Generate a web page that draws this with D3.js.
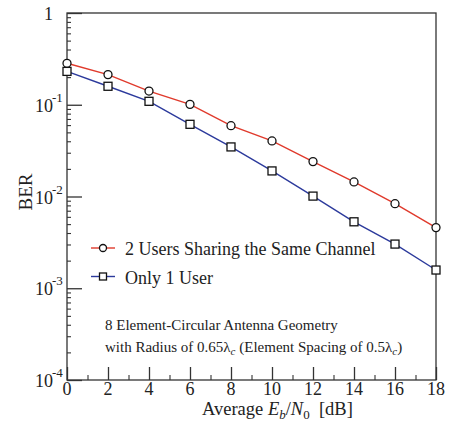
<!DOCTYPE html>
<html>
<head>
<meta charset="utf-8">
<script src="https://cdn.jsdelivr.net/npm/d3@7"></script>
<style>
  body { margin: 0; background: #fff; }
</style>
</head>
<body>
<div id="chart"></div>
<script>
// Data
var snrDb = [0, 2, 4, 6, 8, 10, 12, 14, 16, 18];
var berTwoUsers = [0.283, 0.213, 0.141, 0.101, 0.0591, 0.0403, 0.0240, 0.0144, 0.00835, 0.00458];
var berOneUser = [0.231, 0.159, 0.109, 0.0612, 0.0347, 0.0190, 0.0101, 0.0053, 0.00303, 0.00158];
var xTicks = [0, 2, 4, 6, 8, 10, 12, 14, 16, 18];
var yDecades = [0, -1, -2, -3, -4];

var svgWidth = 452, svgHeight = 425;
var margin = { top: 13, right: 16, bottom: 45, left: 67 };
var chartWidth = 436 - margin.left;
var chartHeight = 380 - margin.top;
var serif = "'Liberation Serif', 'Times New Roman', Times, serif";

var svg = d3.select("#chart").append("svg")
  .attr("width", svgWidth)
  .attr("height", svgHeight)
  .attr("font-family", serif);

var chartGroup = svg.append("g")
  .attr("transform", `translate(${margin.left}, ${margin.top})`);

var xScale = d3.scaleLinear().domain([0, 18]).range([0, chartWidth]);
var yScale = d3.scaleLog().domain([1e-4, 1]).range([chartHeight, 0]);

var axisColor = "#333";
var textColor = "#222";

// Frame
chartGroup.append("rect")
  .attr("width", chartWidth)
  .attr("height", chartHeight)
  .attr("fill", "none")
  .attr("stroke", axisColor)
  .attr("stroke-width", 1.3);

// Y ticks (inward), major at decades, minor at 2..9
var minorY = [];
yDecades.slice(1).forEach(function(e) {
  for (var m = 2; m <= 9; m++) minorY.push(m * Math.pow(10, e));
});
var leftAxis = d3.axisRight(yScale)
  .tickValues(yDecades.map(e => Math.pow(10, e)))
  .tickSize(15)
  .tickFormat("");
chartGroup.append("g").call(leftAxis)
  .call(g => g.select(".domain").remove())
  .selectAll("line").attr("stroke", axisColor).attr("stroke-width", 1.3);
var leftMinor = d3.axisRight(yScale).tickValues(minorY).tickSize(4).tickFormat("");
chartGroup.append("g").call(leftMinor)
  .call(g => g.select(".domain").remove())
  .selectAll("line").attr("stroke", axisColor).attr("stroke-width", 1.1);

// X ticks (inward)
var minorX = d3.range(1, 18, 2);
var bottomAxis = d3.axisTop(xScale).tickValues(xTicks).tickSize(13).tickFormat("");
chartGroup.append("g").attr("transform", `translate(0, ${chartHeight})`).call(bottomAxis)
  .call(g => g.select(".domain").remove())
  .selectAll("line").attr("stroke", axisColor).attr("stroke-width", 1.3);
var bottomMinor = d3.axisTop(xScale).tickValues(minorX).tickSize(5).tickFormat("");
chartGroup.append("g").attr("transform", `translate(0, ${chartHeight})`).call(bottomMinor)
  .call(g => g.select(".domain").remove())
  .selectAll("line").attr("stroke", axisColor).attr("stroke-width", 1.1);

// X tick labels
chartGroup.selectAll(".xLabel")
  .data(xTicks)
  .enter()
  .append("text")
  .attr("class", "xLabel")
  .attr("x", d => xScale(d))
  .attr("y", chartHeight + 14.5)
  .attr("text-anchor", "middle")
  .attr("font-size", 18)
  .attr("fill", textColor)
  .text(d => d);

// Y tick labels
yDecades.forEach(function(e) {
  var y = yScale(Math.pow(10, e));
  if (e === 0) {
    chartGroup.append("text")
      .attr("x", -14).attr("y", y + 7)
      .attr("text-anchor", "end")
      .attr("font-size", 18)
      .attr("fill", textColor)
      .text("1");
  } else {
    chartGroup.append("text")
      .attr("x", -14).attr("y", y + 7)
      .attr("text-anchor", "end")
      .attr("font-size", 18)
      .attr("fill", textColor)
      .text("10");
    chartGroup.append("text")
      .attr("x", -15).attr("y", y - 3)
      .attr("text-anchor", "start")
      .attr("font-size", 13)
      .attr("fill", textColor)
      .text(e);
  }
});

// Axis titles
chartGroup.append("text")
  .attr("transform", "rotate(-90)")
  .attr("x", -179)
  .attr("y", -35)
  .attr("text-anchor", "middle")
  .attr("font-size", 19)
  .attr("fill", textColor)
  .text("BER");

var xTitle = chartGroup.append("text")
  .attr("x", 135)
  .attr("y", chartHeight + 35)
  .attr("text-anchor", "start")
  .attr("font-size", 18.5)
  .attr("fill", textColor);
xTitle.append("tspan").text("Average ");
xTitle.append("tspan").attr("font-style", "italic").text("E");
xTitle.append("tspan").attr("font-style", "italic").attr("font-size", 13).attr("dy", 4).text("b");
xTitle.append("tspan").attr("dy", -4).text("/");
xTitle.append("tspan").attr("font-style", "italic").text("N");
xTitle.append("tspan").attr("font-size", 13).attr("dy", 4).text("0");
xTitle.append("tspan").attr("dy", -4).text("\u00a0\u00a0[dB]");

// Series
var series = [
  { name: "2 Users Sharing the Same Channel", values: berTwoUsers, color: "#e03a2c", marker: "circle" },
  { name: "Only 1 User", values: berOneUser, color: "#2c3a9c", marker: "square" }
];

var line = d3.line()
  .x(d => xScale(d[0]))
  .y(d => yScale(d[1]));

function drawMarker(g, type, x, y, size) {
  if (type === "circle") {
    g.append("circle")
      .attr("cx", x).attr("cy", y).attr("r", size / 2)
      .attr("fill", "#fff").attr("stroke", "#111").attr("stroke-width", 1.3);
  } else {
    g.append("rect")
      .attr("x", x - size / 2).attr("y", y - size / 2)
      .attr("width", size).attr("height", size)
      .attr("fill", "#fff").attr("stroke", "#111").attr("stroke-width", 1.3);
  }
}

series.forEach(function(s) {
  var pts = snrDb.map((x, i) => [x, s.values[i]]);
  chartGroup.append("path")
    .datum(pts)
    .attr("d", line)
    .attr("fill", "none")
    .attr("stroke", s.color)
    .attr("stroke-width", 1.4);
  pts.forEach(p => drawMarker(chartGroup, s.marker, xScale(p[0]), yScale(p[1]), 8));
});

// Legend
series.forEach(function(s, i) {
  var ly = 235 + i * 28.5;
  chartGroup.append("line")
    .attr("x1", 24).attr("x2", 48)
    .attr("y1", ly).attr("y2", ly)
    .attr("stroke", s.color).attr("stroke-width", 1.4);
  drawMarker(chartGroup, s.marker, 36, ly, 7);
  chartGroup.append("text")
    .attr("x", 58).attr("y", ly + 7)
    .attr("font-size", 18)
    .attr("fill", textColor)
    .text(s.name);
});

// Annotation
chartGroup.append("text")
  .attr("x", 38).attr("y", 317)
  .attr("font-size", 15)
  .attr("fill", textColor)
  .text("8 Element-Circular Antenna Geometry");
var note = chartGroup.append("text")
  .attr("x", 38).attr("y", 339)
  .attr("font-size", 15)
  .attr("fill", textColor);
note.append("tspan").text("with Radius of 0.65\u03bb");
note.append("tspan").attr("font-style", "italic").attr("font-size", 11).attr("dy", 3).text("c");
note.append("tspan").attr("dy", -3).text(" (Element Spacing of 0.5\u03bb");
note.append("tspan").attr("font-style", "italic").attr("font-size", 11).attr("dy", 3).text("c");
note.append("tspan").attr("dy", -3).text(")");
</script>
</body>
</html>
